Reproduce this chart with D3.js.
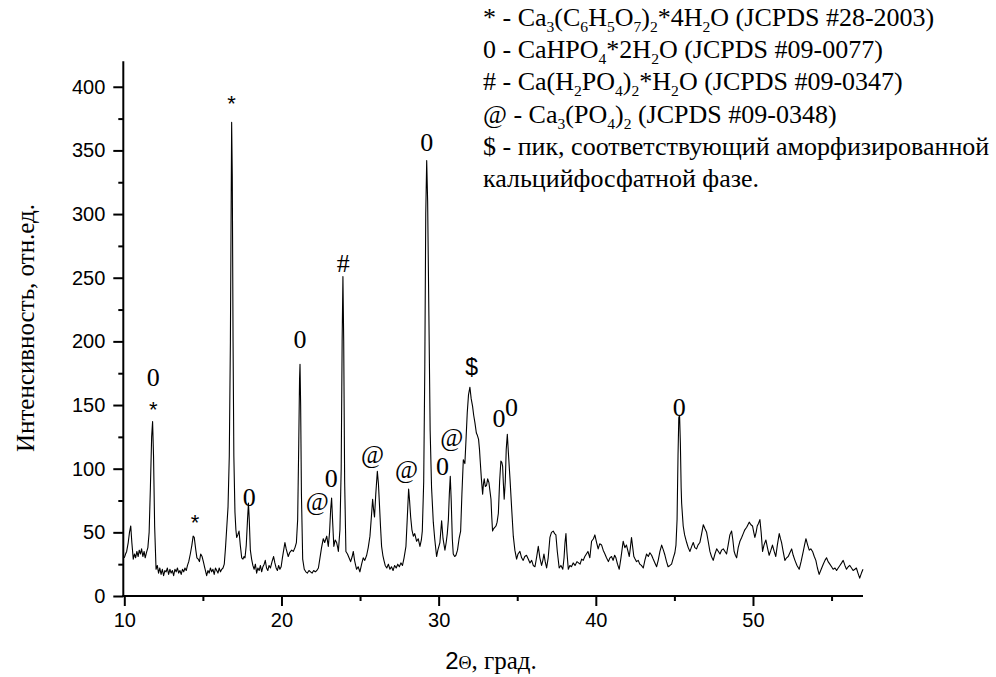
<!DOCTYPE html>
<html><head><meta charset="utf-8">
<script src="https://cdn.jsdelivr.net/npm/d3@7/dist/d3.min.js"></script>
<style>body{margin:0;background:#fff}svg{display:block}</style>
</head><body>
<svg id="chart" width="996" height="677"></svg>
<script>
// ---- data ----
const twoTheta = [
10.00,10.08,10.15,10.25,10.33,10.41,10.48,10.57,10.65,10.72,10.80,10.88,10.95,11.03,11.10,11.18,11.26,11.33,11.41,11.50,
11.58,11.66,11.74,11.80,11.86,11.93,12.02,12.10,12.18,12.26,12.34,12.42,12.50,12.58,12.66,12.74,12.82,12.90,12.98,13.06,
13.14,13.22,13.30,13.38,13.46,13.54,13.62,13.70,13.78,13.86,13.94,14.02,14.10,14.20,14.30,14.38,14.45,14.55,14.62,14.70,
14.78,14.86,14.95,15.03,15.12,15.24,15.32,15.40,15.48,15.56,15.64,15.72,15.80,15.88,15.96,16.04,16.12,16.20,16.28,16.36,
16.44,16.51,16.60,16.68,16.75,16.80,16.83,16.87,16.92,16.97,17.04,17.10,17.15,17.22,17.30,17.38,17.47,17.55,17.62,17.68,
17.76,17.84,17.90,17.95,18.02,18.10,18.18,18.26,18.34,18.42,18.50,18.58,18.66,18.74,18.82,18.90,18.97,19.05,19.13,19.21,
19.30,19.40,19.50,19.58,19.66,19.74,19.82,19.90,19.98,20.06,20.14,20.22,20.30,20.43,20.52,20.65,20.75,20.86,20.95,21.03,
21.10,21.15,21.18,21.22,21.27,21.35,21.45,21.55,21.65,21.75,21.85,21.95,22.05,22.15,22.25,22.35,22.45,22.55,22.66,22.75,
22.88,22.98,23.06,23.13,23.19,23.25,23.33,23.42,23.51,23.58,23.62,23.72,23.80,23.86,23.91,23.96,24.02,24.10,24.20,24.30,
24.40,24.50,24.57,24.65,24.72,24.78,24.88,24.99,25.10,25.20,25.30,25.42,25.52,25.63,25.72,25.80,25.86,25.92,26.00,26.10,
26.17,26.23,26.30,26.37,26.45,26.52,26.60,26.70,26.80,26.90,27.00,27.10,27.20,27.30,27.40,27.50,27.60,27.70,27.80,27.92,
28.00,28.09,28.15,28.22,28.30,28.39,28.48,28.60,28.70,28.81,28.90,28.96,29.05,29.12,29.18,29.24,29.30,29.38,29.46,29.55,
29.66,29.75,29.87,29.95,30.08,30.19,30.28,30.40,30.48,30.55,30.62,30.68,30.74,30.80,30.87,30.93,31.02,31.10,31.20,31.30,
31.40,31.48,31.57,31.67,31.75,31.82,31.90,31.99,32.07,32.16,32.23,32.31,32.40,32.47,32.54,32.60,32.64,32.72,32.80,32.85,
32.90,32.97,33.05,33.12,33.20,33.27,33.33,33.38,33.43,33.50,33.58,33.65,33.72,33.80,33.88,33.96,34.02,34.07,34.12,34.17,
34.24,34.30,34.37,34.44,34.54,34.65,34.75,34.85,34.96,35.05,35.17,35.28,35.38,35.48,35.59,35.70,35.81,35.92,36.02,36.13,
36.24,36.34,36.44,36.55,36.63,36.70,36.78,36.87,36.97,37.08,37.18,37.29,37.38,37.46,37.55,37.67,37.78,37.90,37.98,38.04,
38.10,38.16,38.25,38.35,38.45,38.56,38.68,38.80,38.90,39.00,39.10,39.20,39.30,39.40,39.50,39.62,39.73,39.85,39.94,40.05,
40.15,40.25,40.37,40.47,40.58,40.68,40.80,40.90,41.00,41.10,41.20,41.28,41.38,41.49,41.60,41.74,41.85,41.95,42.05,42.13,
42.20,42.27,42.35,42.42,42.50,42.59,42.70,42.80,42.90,43.02,43.12,43.23,43.34,43.44,43.55,43.65,43.76,43.87,43.97,44.08,
44.19,44.30,44.40,44.50,44.60,44.72,44.82,44.93,45.03,45.10,45.17,45.23,45.28,45.33,45.38,45.43,45.46,45.52,45.56,45.65,
45.78,45.88,45.99,46.10,46.20,46.30,46.41,46.50,46.62,46.72,46.84,46.94,47.05,47.15,47.26,47.36,47.47,47.58,47.69,47.80,
47.90,48.00,48.11,48.22,48.32,48.42,48.53,48.64,48.72,48.80,48.88,48.96,49.06,49.17,49.28,49.38,49.48,49.60,49.68,49.76,
49.87,49.97,50.05,50.12,50.20,50.27,50.35,50.44,50.52,50.61,50.70,50.82,50.92,51.03,51.14,51.24,51.35,51.45,51.55,51.67,
51.75,51.82,51.92,52.03,52.14,52.24,52.35,52.46,52.56,52.67,52.80,52.94,53.06,53.20,53.28,53.37,53.48,53.58,53.68,53.79,
53.90,54.00,54.10,54.21,54.34,54.47,54.58,54.68,54.78,54.89,55.00,55.10,55.22,55.32,55.42,55.53,55.64,55.74,55.85,55.95,
56.06,56.16,56.27,56.37,56.48,56.58,56.68,56.79,56.90,57.00
];
const intensity = [
30,33,35,42,50,55,42,29,33,30,35,31,36,33,37,31,35,30,34,38,
50,85,125,137,110,55,21,24,18,22,17,21,16,20,19,22,17,21,18,20,
16,21,19,22,18,20,17,21,19,22,20,24,27,33,40,47,46,36,30,29,
27,33,31,27,22,16,20,18,22,19,21,17,22,20,18,22,19,21,22,25,
38,52,70,110,200,310,372,330,200,110,66,52,46,48,51,40,30,29,31,30,
40,60,73,60,36,29,24,21,25,18,22,20,24,19,23,25,28,22,20,24,
22,27,31,26,22,20,24,21,23,30,36,42,37,31,34,36,35,38,42,60,
120,170,182,150,80,29,21,19,18,20,19,18,20,19,20,22,30,38,45,42,
47,39,50,68,77,60,39,44,42,38,35,52,100,200,251,200,90,35,33,30,
27,31,35,28,24,21,23,19,25,30,28,32,38,47,62,76,68,62,80,98,
88,73,55,39,32,28,24,22,25,21,23,20,24,22,25,23,26,24,30,39,
60,84,75,62,52,47,49,43,45,39,44,51,90,180,300,342,310,220,130,85,
58,45,31,36,42,59,45,36,42,49,60,80,94,75,45,33,31,32,36,45,
51,80,107,104,125,144,158,164,155,149,142,136,128,126,123,115,107,92,80,88,
92,86,87,92,89,82,76,62,51,53,54,55,58,65,90,106,105,102,88,76,
90,115,127,112,92,68,47,36,29,33,35,30,28,31,32,29,26,28,24,23,
31,39,30,24,28,33,27,22,30,46,50,51,49,48,35,22,24,21,30,42,
49,35,21,24,23,26,24,27,26,25,29,28,31,33,35,30,43,45,48,42,
37,41,40,36,33,30,27,30,31,28,32,30,25,21,30,43,38,40,35,31,
38,46,38,31,29,27,28,25,24,22,28,33,31,34,32,29,26,23,28,35,
40,36,32,27,23,24,25,30,34,40,60,110,140,142,120,85,73,62,55,48,
42,38,35,39,42,38,37,40,42,48,56,53,50,43,35,31,28,33,37,35,
33,36,37,35,33,40,48,51,44,35,32,30,38,43,46,49,52,54,56,58,
56,55,50,46,50,55,57,60,50,35,40,44,38,32,36,40,35,31,40,49,
45,42,35,28,30,31,34,37,32,28,24,21,27,35,40,45,40,36,37,35,
31,28,22,17,21,25,28,30,27,25,23,21,22,20,22,24,26,28,24,21,
23,24,22,20,21,22,18,14,18,21
];
const xMajorTicks = [10, 20, 30, 40, 50];
const xMinorTicks = [15, 25, 35, 45, 55];
const yMajorTicks = [0, 50, 100, 150, 200, 250, 300, 350, 400];
const yMinorTicks = [25, 75, 125, 175, 225, 275, 325, 375];

// peak marks: symbol, 2θ position, intensity position (glyph centre)
const peakSymbols = ["0","*","*","*","0","0","@","0","#","@","@","0","$","0","@","0","0","0"];
const peakSymbolX = [11.84,11.84,14.50,16.83,17.95,21.18,22.28,23.17,23.93,25.80,27.96,29.24,32.10,30.25,30.83,33.84,34.64,45.31];
const peakSymbolY = [172.0,150.8,62.1,391.0,78.0,201.6,72.3,92.5,261.4,109.0,97.6,356.1,180.1,102.1,122.5,139.6,148.7,148.7];

// legend lines: segments [text, isSubscript]
const legendLines = [
  [["* - Ca",0],["3",1],["(C",0],["6",1],["H",0],["5",1],["O",0],["7",1],[")",0],["2",1],["*4H",0],["2",1],["O (JCPDS #28-2003)",0]],
  [["0 - CaHPO",0],["4",1],["*2H",0],["2",1],["O (JCPDS #09-0077)",0]],
  [["# - Ca(H",0],["2",1],["PO",0],["4",1],[")",0],["2",1],["*H",0],["2",1],["O (JCPDS #09-0347)",0]],
  [["@ - Ca",0],["3",1],["(PO",0],["4",1],[")",0],["2",1],[" (JCPDS #09-0348)",0]],
  [["$ - пик, соответствующий аморфизированной",0]],
  [["кальцийфосфатной фазе.",0]]
];
const xTitle = ["2", "Θ", ", град."];
const yTitle = "Интенсивность, отн.ед.";

// ---- drawing ----
const svg = d3.select("#chart");
const x = d3.scaleLinear().domain([10, 57]).range([124.3, 863]);
const y = d3.scaleLinear().domain([0, 420]).range([596, 61.3]);
const SANS = "'Liberation Sans', Arial, sans-serif";
const SERIF = "'Liberation Serif', 'Times New Roman', serif";

const data = twoTheta.map((t, i) => ({t, v: intensity[i]}));

svg.append("path")
  .datum(data)
  .attr("fill", "none")
  .attr("stroke", "#000")
  .attr("stroke-width", 1.1)
  .attr("stroke-linejoin", "round")
  .attr("d", d3.line().x(d => x(d.t)).y(d => y(d.v)));

// axes
const gx = svg.append("g").attr("transform", `translate(0,${y(0)})`)
  .call(d3.axisBottom(x).tickValues(xMajorTicks).tickSize(10).tickPadding(7).tickFormat(d3.format("d")));
const gxm = svg.append("g").attr("transform", `translate(0,${y(0)})`)
  .call(d3.axisBottom(x).tickValues(xMinorTicks).tickSize(5).tickFormat(""));
const gy = svg.append("g").attr("transform", `translate(${x(10) - 1},0)`)
  .call(d3.axisLeft(y).tickValues(yMajorTicks).tickSize(10).tickPadding(8).tickFormat(d3.format("d")));
const gym = svg.append("g").attr("transform", `translate(${x(10) - 1},0)`)
  .call(d3.axisLeft(y).tickValues(yMinorTicks).tickSize(5).tickFormat(""));
[gx, gxm, gy, gym].forEach(g => {
  g.select(".domain").attr("stroke", "#000").attr("stroke-width", 2);
  g.selectAll(".tick line").attr("stroke", "#000").attr("stroke-width", 2);
  g.selectAll("text").attr("font-family", SANS).attr("font-size", 20).attr("fill", "#000");
});
gxm.select(".domain").remove();
gym.select(".domain").remove();
gx.select(".domain").attr("d", `M${x(10) - 2},0H${x(57)}`);
gy.select(".domain").attr("d", `M0,${y(0) + 1}V${y(420)}`);

// axis titles
const xt = svg.append("text").attr("x", 491).attr("y", 669).attr("text-anchor", "middle").attr("fill", "#000");
xt.append("tspan").attr("font-family", SANS).attr("font-size", 24).text(xTitle[0]);
xt.append("tspan").attr("font-family", SERIF).attr("font-size", 18).text(xTitle[1]);
xt.append("tspan").attr("font-family", SERIF).attr("font-size", 25).text(xTitle[2]);

svg.append("text")
  .attr("transform", "translate(34,328) rotate(-90)")
  .attr("text-anchor", "middle")
  .attr("font-family", SERIF).attr("font-size", 25).attr("fill", "#000")
  .text(yTitle);

// peak symbols
const symStyle = {
  "0": {font: SERIF, size: 26, off: 0.34},
  "#": {font: SERIF, size: 26, off: 0.34},
  "@": {font: SERIF, size: 25, off: 0.24},
  "*": {font: SANS, size: 22, off: 0.58},
  "$": {font: SANS, size: 23, off: 0.36}
};
peakSymbols.forEach((s, i) => {
  const st = symStyle[s];
  svg.append("text")
    .attr("x", x(peakSymbolX[i]))
    .attr("y", y(peakSymbolY[i]) + st.off * st.size)
    .attr("text-anchor", "middle")
    .attr("font-family", st.font).attr("font-size", st.size).attr("fill", "#000")
    .text(s);
});

// legend block
const legFont = 26, legX = 483, legY0 = 26, legDy = 32.2;
legendLines.forEach((line, li) => {
  const t = svg.append("text")
    .attr("x", legX).attr("y", legY0 + li * legDy)
    .attr("font-family", SERIF).attr("font-size", legFont).attr("fill", "#000")
    .attr("xml:space", "preserve");
  let shifted = false;
  line.forEach(([txt, sub]) => {
    const ts = t.append("tspan").text(txt).style("white-space", "pre");
    if (sub) {
      ts.attr("font-size", legFont * 0.6).attr("dy", shifted ? 0 : 6);
      shifted = true;
    } else {
      if (shifted) ts.attr("dy", -6);
      shifted = false;
    }
  });
});
</script>
</body></html>
